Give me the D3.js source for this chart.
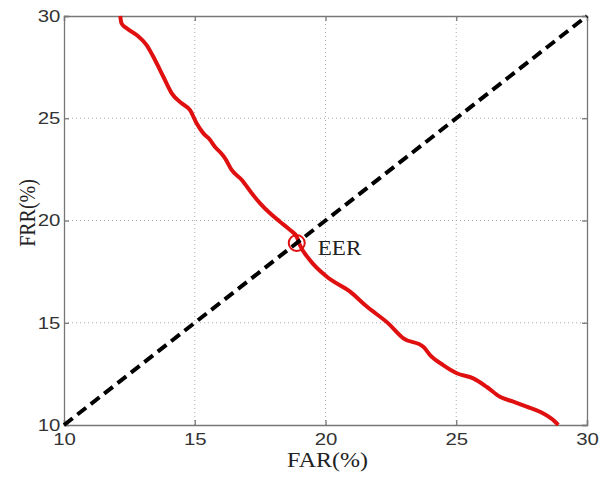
<!DOCTYPE html>
<html>
<head>
<meta charset="utf-8">
<script src="https://cdn.jsdelivr.net/npm/d3@7"></script>
<style>
  body { margin: 0; background: #fff; }
  svg { display: block; }
</style>
</head>
<body>
<div id="chart"></div>
<script>
// Size of the page and the plot box inside it.
var w = 600,
    h = 478,
    margin = { top: 16, right: 13, bottom: 53, left: 64 },
    stretch = 1.2;   // the source figure is stretched sideways

// Tick values, shared by both axes.
var ticks = [10, 15, 20, 25, 30];

// FAR / FRR trade-off curve.
var far = [12.15, 12.2, 12.4, 12.78, 13.16, 13.48, 13.8, 14.12, 14.5, 14.82, 15.07,
           15.33, 15.58, 15.77, 16.0, 16.16, 16.41, 16.8, 17.18, 17.5, 17.88, 18.26,
           18.64, 18.9, 19.02, 19.4, 20.05, 20.94, 21.58, 22.4, 22.98, 23.74, 24.0,
           24.5, 25.02, 25.65, 26.16, 26.67, 27.18, 27.69, 28.2, 28.78, 28.9],
    frr = [30, 29.64, 29.4, 29.07, 28.58, 27.85, 27.03, 26.22, 25.73, 25.4, 24.75,
           24.26, 23.95, 23.61, 23.3, 23.04, 22.47, 21.98, 21.33, 20.84, 20.35, 19.94,
           19.54, 19.2, 18.8, 18.07, 17.25, 16.52, 15.79, 14.97, 14.24, 13.83, 13.42,
           12.93, 12.53, 12.28, 11.87, 11.38, 11.14, 10.9, 10.65, 10.16, 10];

// Equal error rate line (FAR = FRR) and the EER point.
var diagonal = [10, 30],
    eer = [18.9, 18.9];

var iw = w - margin.left - margin.right,
    ih = h - margin.top - margin.bottom;

var x = d3.scaleLinear().domain([10, 30]).range([0, iw]),
    y = d3.scaleLinear().domain([10, 30]).range([ih, 0]);

var svg = d3.select("#chart")
    .append("svg")
    .attr("width", w)
    .attr("height", h);

var g = svg.append("g")
    .attr("transform", "translate(" + margin.left + "," + margin.top + ")");

// Dotted grid lines, MATLAB style.
g.selectAll("line.gx")
    .data(ticks.slice(1, -1))
    .enter().append("line")
    .attr("x1", function (d) { return x(d); })
    .attr("x2", function (d) { return x(d); })
    .attr("y1", 0).attr("y2", ih)
    .attr("stroke", "#aaa")
    .attr("stroke-width", 1)
    .attr("stroke-dasharray", "1,3");

g.selectAll("line.gy")
    .data(ticks.slice(1, -1))
    .enter().append("line")
    .attr("y1", function (d) { return y(d); })
    .attr("y2", function (d) { return y(d); })
    .attr("x1", 0).attr("x2", iw)
    .attr("stroke", "#aaa")
    .attr("stroke-width", 1)
    .attr("stroke-dasharray", "1,3");

// Axes on all four sides with inward ticks.
function styleAxis(sel) {
    sel.select(".domain").attr("stroke", "#777").attr("stroke-width", 1.3);
    sel.selectAll(".tick line").attr("stroke", "#777").attr("stroke-width", 1.3);
    sel.selectAll("text")
        .attr("fill", "#333")
        .style("font-family", "'Liberation Sans', Arial, sans-serif")
        .style("font-size", "17px");
}

g.append("g")
    .attr("transform", "translate(0," + ih + ")")
    .call(d3.axisBottom(x).tickValues(ticks).tickSize(-5).tickPadding(8).tickFormat(d3.format("d")))
    .call(styleAxis)
    .selectAll("text")
    .attr("transform", "scale(" + stretch + ",1)");

g.append("g")
    .call(d3.axisLeft(y).tickValues(ticks).tickSize(-5).tickPadding(3).tickFormat(d3.format("d")))
    .call(styleAxis)
    .selectAll("text")
    .attr("transform", "scale(" + stretch + ",1)");

g.append("g")
    .call(d3.axisTop(x).tickValues(ticks).tickSize(-5).tickFormat(""))
    .call(styleAxis);

g.append("g")
    .attr("transform", "translate(" + iw + ",0)")
    .call(d3.axisRight(y).tickValues(ticks).tickSize(-5).tickFormat(""))
    .call(styleAxis);

// Clip the data marks to the plot box.
svg.append("defs").append("clipPath")
    .attr("id", "box")
    .append("rect")
    .attr("x", -3).attr("y", -3)
    .attr("width", iw + 6).attr("height", ih + 6);

var plot = g.append("g").attr("clip-path", "url(#box)");

var line = d3.line()
    .x(function (d) { return x(d[0]); })
    .y(function (d) { return y(d[1]); });

// Red FAR/FRR curve.
plot.append("path")
    .datum(d3.zip(far, frr))
    .attr("d", line.curve(d3.curveMonotoneX))
    .attr("fill", "none")
    .attr("stroke", "#e01010")
    .attr("stroke-width", 4)
    .attr("stroke-linejoin", "round");

// Black dashed diagonal.
plot.append("path")
    .datum(d3.zip(diagonal, diagonal))
    .attr("d", line.curve(d3.curveLinear))
    .attr("fill", "none")
    .attr("stroke", "#000")
    .attr("stroke-width", 4)
    .attr("stroke-dasharray", "11,6");

// EER marker and label.
g.append("circle")
    .attr("cx", x(eer[0]))
    .attr("cy", y(eer[1]))
    .attr("r", 8)
    .attr("fill", "none")
    .attr("stroke", "#e01010")
    .attr("stroke-width", 2);

var serif = "'Liberation Serif', 'Times New Roman', serif";

g.append("text")
    .attr("transform", "translate(" + (x(eer[0]) + 21) + "," + (y(eer[1]) + 12) + ") scale(1.1,1)")
    .style("font-family", serif)
    .style("font-size", "21px")
    .attr("fill", "#222")
    .text("EER");

// Axis titles.
svg.append("text")
    .attr("transform", "translate(" + (margin.left + iw / 2 + 2) + ",467) scale(" + stretch + ",1)")
    .attr("text-anchor", "middle")
    .style("font-family", serif)
    .style("font-size", "20px")
    .attr("fill", "#222")
    .text("FAR(%)");

svg.append("text")
    .attr("transform", "translate(35,213) rotate(-90) scale(1," + stretch + ")")
    .attr("text-anchor", "middle")
    .style("font-family", serif)
    .style("font-size", "20px")
    .attr("fill", "#222")
    .text("FRR(%)");
</script>
</body>
</html>
